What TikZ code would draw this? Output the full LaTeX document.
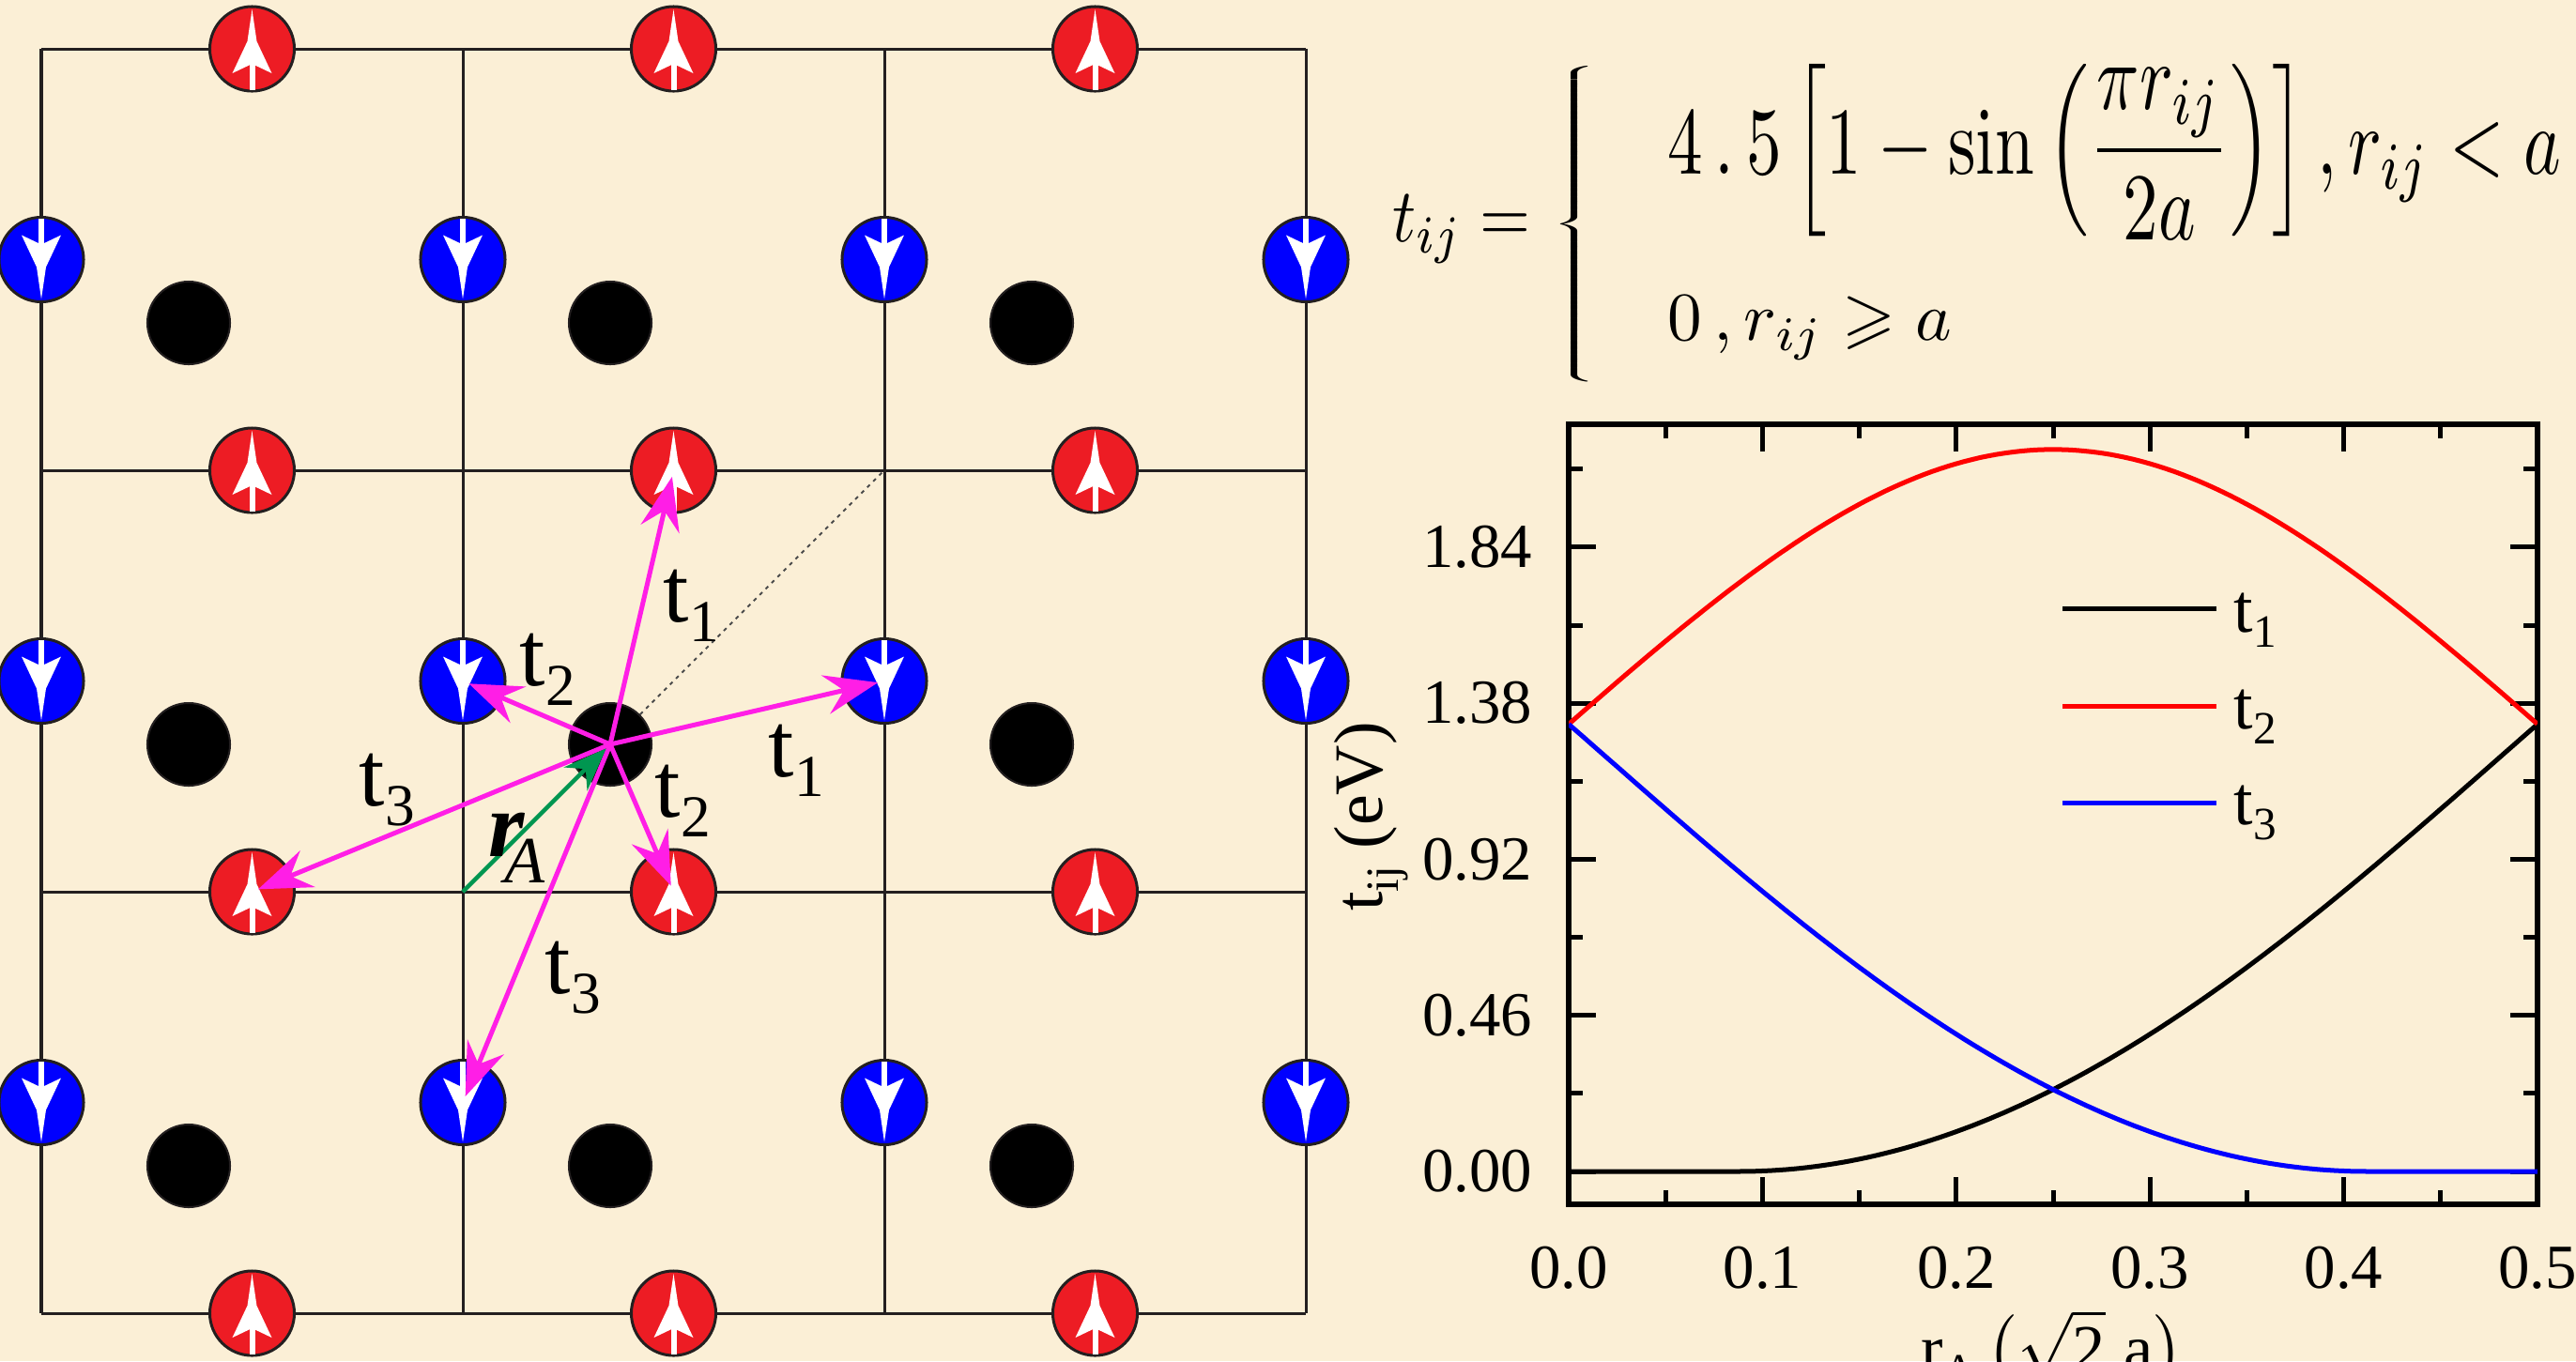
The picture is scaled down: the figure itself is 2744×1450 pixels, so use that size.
\RequirePackage{fix-cm}
\documentclass[tikz,border=0pt]{standalone}
\usepackage{amsmath,amssymb}
\usepackage{graphicx}
\usepackage[no-math]{fontspec}
\setmainfont{Liberation Serif}
\usetikzlibrary{arrows.meta}
\definecolor{bg}{RGB}{251,239,214}
\definecolor{spinred}{RGB}{237,28,36}
\definecolor{spinblue}{RGB}{0,0,255}
\definecolor{mag}{RGB}{255,30,230}
\definecolor{grn}{RGB}{0,150,80}
\definecolor{ink}{RGB}{35,31,32}
\newcommand{\tsub}[2]{#1\raisebox{-6pt}{\fontsize{18}{20}\selectfont #2}}
\newcommand{\lsub}[2]{#1\raisebox{-4.8pt}{\fontsize{14}{16}\selectfont #2}}
\tikzset{
  gridline/.style={draw=ink, line width=0.03cm},
  redspin/.style={circle, minimum size=0.9cm, inner sep=0pt, fill=spinred, draw=ink, line width=0.03cm},
  bluespin/.style={circle, minimum size=0.9cm, inner sep=0pt, fill=spinblue, draw=ink, line width=0.03cm},
  atomdot/.style={circle, minimum size=0.88cm, inner sep=0pt, fill=black, draw=ink, line width=0.02cm},
  uparrow/.pic={
    \fill[white] (-3,14) rectangle (3,44);
    \fill[white] (0,-42) -- (-5,-8) -- (-21,26) -- (0,16) -- (21,26) -- (5,-8) -- cycle;
  },
  downarrow/.pic={
    \fill[white] (-3,-14) rectangle (3,-44);
    \fill[white] (0,42) -- (-5,8) -- (-21,-26) -- (0,-16) -- (21,-26) -- (5,8) -- cycle;
  },
  hop/.style={draw=mag, line width=0.05cm, -{Stealth[length=0.57cm, width=0.42cm, inset=0.2cm]}, shorten >=0.07cm},
  ravec/.style={draw=grn, line width=0.045cm, -{Stealth[length=0.46cm, width=0.35cm, inset=0.15cm]}, shorten >=0.06cm},
  lab/.style={inner sep=0pt, font=\fontsize{28}{32}\selectfont, anchor=base west},
  ticklab/.style={inner sep=0pt, font=\fontsize{19}{22}\selectfont},
  leglab/.style={inner sep=0pt, font=\fontsize{21}{24}\selectfont, anchor=base west},
  axl/.style={inner sep=0pt, font=\fontsize{21}{24}\selectfont},
  frame/.style={draw=black, line width=0.055cm},
  tk/.style={draw=black, line width=0.05cm},
  curve/.style={line width=0.05cm},
  fml/.style={inner sep=0pt, anchor=north west}
}
\begin{document}
\begin{tikzpicture}[x=0.01cm,y=-0.01cm]
\useasboundingbox (0,0) rectangle (2744,1450);
\fill[bg] (0,0) rectangle (2744,1450);
% grid
\foreach \k in {0,...,3} {
  \draw[gridline] ({44+449*\k},52) -- ({44+449*\k},1399);
  \draw[gridline] (44,{52+449*\k}) -- (1391,{52+449*\k});
}
\coordinate (corner) at (493,950);
\coordinate (ur) at (942,501);
% dotted diagonal
\draw[draw=gray!60!black, line width=0.02cm, dash pattern=on 0.04cm off 0.05cm] (650,793) -- (ur);
% red (up) spins
\foreach \i in {0,1,2} \foreach \j in {0,1,2,3} {
  \node[redspin] (R\i\j) at ({268.5+449*\i},{52+449*\j}) {};
  \pic at (R\i\j) {uparrow};
}
% blue (down) spins
\foreach \i in {0,1,2,3} \foreach \j in {0,1,2} {
  \node[bluespin] (B\i\j) at ({44+449*\i},{276.5+449*\j}) {};
  \pic at (B\i\j) {downarrow};
}
% black atoms
\foreach \i in {0,1,2} \foreach \j in {0,1,2} {
  \node[atomdot] (D\i\j) at ({201+449*\i},{344+449*\j}) {};
}
% hoppings
\draw[hop] (D11.center) -- (R11.center);
\draw[hop] (D11.center) -- (B21.center);
\draw[hop] (D11.center) -- (B11.center);
\draw[hop] (D11.center) -- (R12.center);
\draw[hop] (D11.center) -- (R02.center);
\draw[hop] (D11.center) -- (B12.center);
\draw[ravec] (corner) -- (D11.center);
% labels
\node[lab] (l1) at (706,662) {\tsub{t}{1}};
\node[lab] (l2) at (553,730) {\tsub{t}{2}};
\node[lab] (l3) at (818,827) {\tsub{t}{1}};
\node[lab] (l4) at (697,870) {\tsub{t}{2}};
\node[lab] (l5) at (580,1058) {\tsub{t}{3}};
\node[lab] (l6) at (382,858) {\tsub{t}{3}};
\node[lab] (lr) at (520,912) {{\bfseries\itshape r}\kern-6pt\raisebox{-8pt}{\fontsize{20}{22}\selectfont\itshape A}};
% formula
\node[fml] (fa) at (1483,207) {\resizebox*{1.47cm}{0.73cm}{$t_{ij}=$}};
\node[fml] (fb) at (1652,70) {\resizebox*{0.62cm}{3.36cm}{\fontsize{4.5}{5}\selectfont\delimitershortfall=-1pt\delimiterfactor=1001$\left\{\vrule height 1.6cm depth 1.6cm width 0pt\right.$}};
\node[fml] (fc) at (1776,68) {\resizebox*{9.51cm}{1.87cm}{$\displaystyle 4\,.\,5\left[1-\sin\left(\frac{\pi r_{ij}}{2a}\right)\right],r_{ij}<a$}};
\node[fml] (fd) at (1776,315) {\resizebox*{3.02cm}{0.68cm}{$0\,,r_{ij}\geqslant a$}};
% plot frame and ticks
\draw[frame] (1671,452) rectangle (2703,1283);
\foreach \t in {0,0.46,0.92,1.38,1.84} {
  \draw[tk] (1671,{1248-361.5*\t}) -- ++(29,0);
  \draw[tk] (2703,{1248-361.5*\t}) -- ++(-29,0);
}
\foreach \t in {0.23,0.69,1.15,1.61,2.07} {
  \draw[tk] (1671,{1248-361.5*\t}) -- ++(15,0);
  \draw[tk] (2703,{1248-361.5*\t}) -- ++(-15,0);
}
\foreach \s in {0.1,0.2,0.3,0.4} {
  \draw[tk] ({1671+2064*\s},1283) -- ++(0,-29);
  \draw[tk] ({1671+2064*\s},452) -- ++(0,29);
}
\foreach \s in {0.05,0.15,0.25,0.35,0.45} {
  \draw[tk] ({1671+2064*\s},1283) -- ++(0,-15);
  \draw[tk] ({1671+2064*\s},452) -- ++(0,15);
}
% curves
\begin{scope}
\clip (1671,452) rectangle (2703,1283);
\draw[curve, black] plot[domain=0:0.5, samples=121] ({1671+2064*\x},{1248-361.5*4.5*(1-sin(90*min(1,sqrt((0.5-\x)^2+(1-\x)^2))))});
\draw[curve, red] plot[domain=0:0.5, samples=121] ({1671+2064*\x},{1248-361.5*4.5*(1-sin(90*min(1,sqrt((\x)^2+(0.5-\x)^2))))});
\draw[curve, blue] plot[domain=0:0.5, samples=121] ({1671+2064*\x},{1248-361.5*4.5*(1-sin(90*min(1,sqrt((0.5+\x)^2+(\x)^2))))});
\end{scope}
% tick labels
\node[ticklab, anchor=east] (y0) at (1633,1248) {0.00};
\node[ticklab, anchor=east] (y1) at (1633,1081.7) {0.46};
\node[ticklab, anchor=east] (y2) at (1633,915.4) {0.92};
\node[ticklab, anchor=east] (y3) at (1633,749.1) {1.38};
\node[ticklab, anchor=east] (y4) at (1633,582.8) {1.84};
\node[ticklab, anchor=north] (x0) at (1671,1327) {0.0};
\node[ticklab, anchor=north] (x1) at (1877.4,1327) {0.1};
\node[ticklab, anchor=north] (x2) at (2083.8,1327) {0.2};
\node[ticklab, anchor=north] (x3) at (2290.2,1327) {0.3};
\node[ticklab, anchor=north] (x4) at (2496.6,1327) {0.4};
\node[ticklab, anchor=north] (x5) at (2703,1327) {0.5};
% legend
\draw[curve, black] (2197,648) -- (2361,648);
\draw[curve, red] (2197,752) -- (2361,752);
\draw[curve, blue] (2197,855) -- (2361,855);
\node[leglab] (g1) at (2379,673) {\lsub{t}{1}};
\node[leglab] (g2) at (2379,776) {\lsub{t}{2}};
\node[leglab] (g3) at (2379,878) {\lsub{t}{3}};
% axis labels
\node[axl, rotate=90] (ylab) at (1461,870) {\lsub{t}{ij} (eV)};
\node[axl, anchor=base, font=\fontsize{20}{22}\selectfont] (xlab) at (2186,1460) {\lsub{r}{A}\,$\bigl(\sqrt{\mbox{2}}\;\mbox{a}\bigr)$};
\end{tikzpicture}
\end{document}
